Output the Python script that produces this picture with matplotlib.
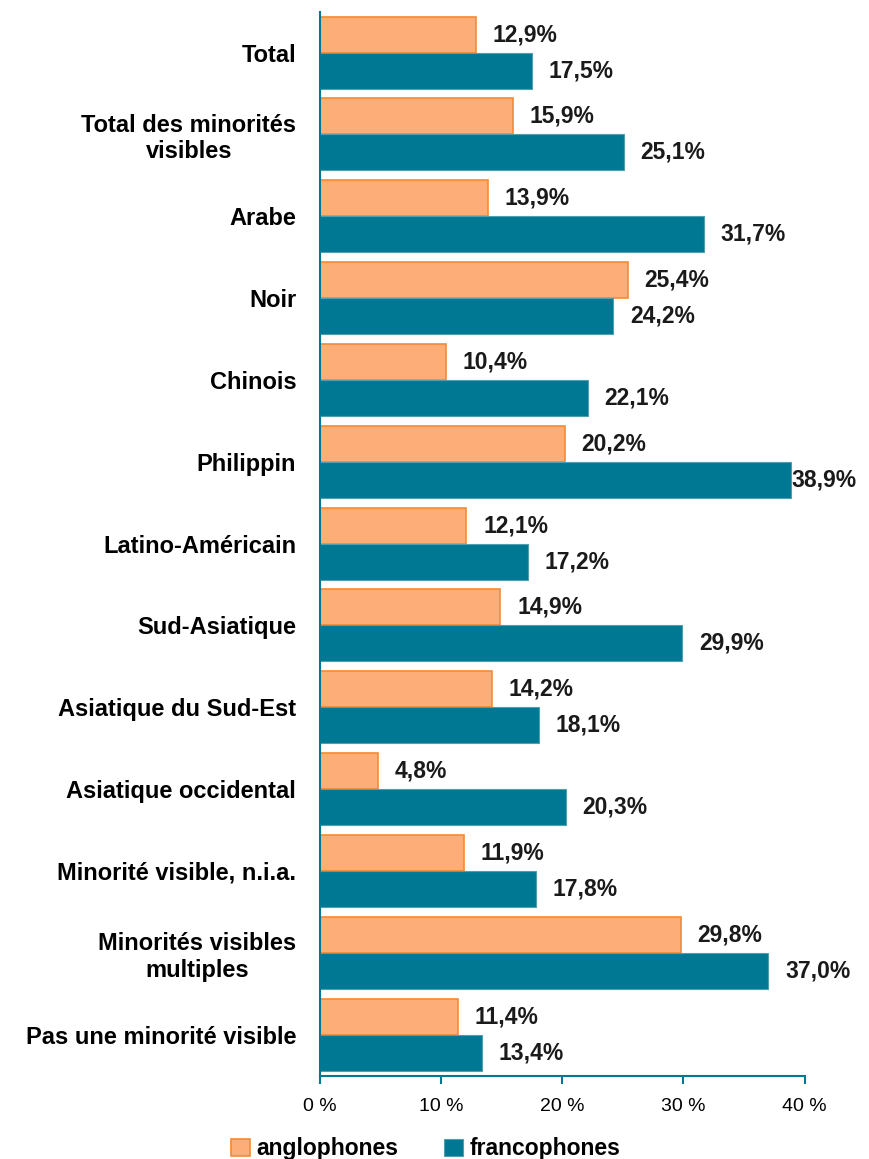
import numpy as np
import matplotlib
matplotlib.use('Agg')
from matplotlib import pyplot as plt

categories = ['Total', 'Total des minorités\nvisibles', 'Arabe', 'Noir', 'Chinois', 'Philippin',
              'Latino-Américain', 'Sud-Asiatique', 'Asiatique du Sud-Est', 'Asiatique occidental',
              'Minorité visible, n.i.a.', 'Minorités visibles\nmultiples', 'Pas une minorité visible']
anglophones = [12.9, 15.9, 13.9, 25.4, 10.4, 20.2, 12.1, 14.9, 14.2, 4.8, 11.9, 29.8, 11.4]
francophones = [17.5, 25.1, 31.7, 24.2, 22.1, 38.9, 17.2, 29.9, 18.1, 20.3, 17.8, 37.0, 13.4]
ticks = [0, 10, 20, 30, 40]

plt.rcParams['font.family'] = ['Liberation Sans', 'DejaVu Sans']

fig = plt.figure(figsize=(8.69, 11.59), dpi=100)
ax = fig.add_axes([0.368, 0.072, 0.558, 0.918])

teal = '#007893'
n = len(categories)
y = np.arange(n)
h = 0.44
ax.barh(y - h / 2, anglophones, height=h, color='#fdae78', edgecolor='#f58a35', linewidth=1.2,
        label='anglophones')
ax.barh(y + h / 2, francophones, height=h, color=teal, edgecolor='#4f9fb0', linewidth=0.8,
        label='francophones')

for i in range(n):
    ax.annotate(f'{anglophones[i]:.1f}%'.replace('.', ','), (anglophones[i], y[i] - h / 2),
                xytext=(12, 0), textcoords='offset points', va='center', ha='left',
                fontsize=16.5, fontweight='bold', color='#1a1a1a')
    ax.annotate(f'{francophones[i]:.1f}%'.replace('.', ','), (francophones[i], y[i] + h / 2),
                xytext=(12 if francophones[i] < 38 else 0, 0), textcoords='offset points',
                va='center', ha='left', fontsize=16.5, fontweight='bold', color='#1a1a1a')

ax.set_ylim(n - 0.5, -0.5)
ax.set_xlim(0, 40)
ax.set_yticks(y)
ax.set_yticklabels(categories, fontsize=17, fontweight='bold', ha='right', multialignment='center')
ax.tick_params(axis='y', length=0, pad=17)
ax.set_xticks(ticks)
ax.set_xticklabels([f'{t} %' for t in ticks], fontsize=14)
ax.tick_params(axis='x', direction='out', length=6, color=teal, width=1.5, pad=10)

for s in ['top', 'right']:
    ax.spines[s].set_visible(False)
for s in ['left', 'bottom']:
    ax.spines[s].set_color(teal)
    ax.spines[s].set_linewidth(1.5)

fig.legend(loc='lower center', bbox_to_anchor=(0.49, -0.019), ncol=2, frameon=False,
           prop={'size': 16.5, 'weight': 'bold'}, handlelength=0.8, handleheight=0.8,
           columnspacing=2.0, handletextpad=0.3)

plt.savefig('out.png', dpi=100)
